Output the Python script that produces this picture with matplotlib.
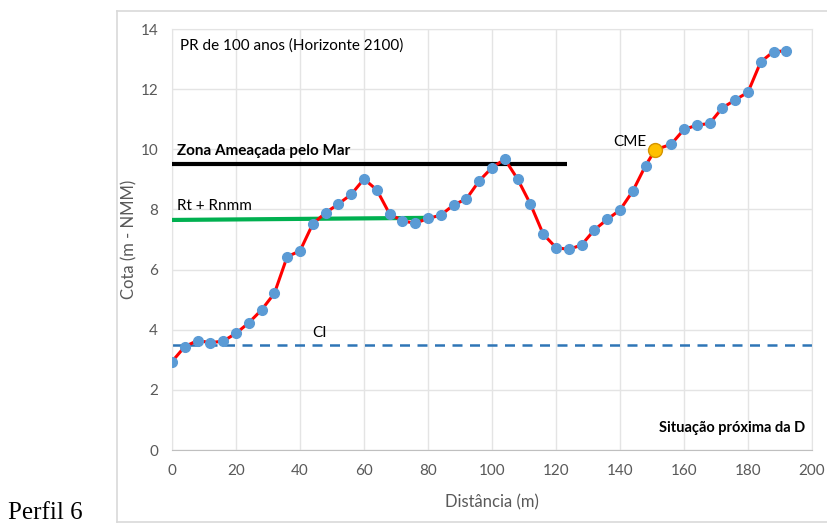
import matplotlib
matplotlib.use("Agg")
import matplotlib.pyplot as plt
from matplotlib.lines import Line2D

# Data
dist = [0, 4, 8, 12, 16, 20, 24, 28, 32, 36, 40, 44, 48, 52, 56, 60, 64, 68, 72, 76,
        80, 84, 88, 92, 96, 100, 104, 108, 112, 116, 120, 124, 128, 132, 136, 140, 144,
        148, 151, 156, 160, 164, 168, 172, 176, 180, 184, 188, 192]
cota = [2.94, 3.44, 3.64, 3.57, 3.62, 3.88, 4.23, 4.66, 5.21, 6.43, 6.62, 7.52, 7.89,
        8.18, 8.50, 9.01, 8.65, 7.85, 7.62, 7.54, 7.70, 7.81, 8.15, 8.35, 8.95, 9.39,
        9.67, 9.01, 8.18, 7.18, 6.73, 6.67, 6.82, 7.32, 7.67, 7.98, 8.61, 9.46, 9.98,
        10.17, 10.66, 10.80, 10.86, 11.38, 11.64, 11.90, 12.91, 13.25, 13.27]
cme_x, cme_y = [151], [9.98]
zona_x, zona_y = [0, 123.5], [9.5, 9.5]
rt_x, rt_y = [0, 80], [7.65, 7.72]
ci_x, ci_y = [0, 200], [3.5, 3.5]
xticks = list(range(0, 201, 20))
yticks = list(range(0, 15, 2))

plt.rcParams['font.family'] = ['Lato', 'DejaVu Sans']

W, H = 828, 523
fig = plt.figure(figsize=(W / 100, H / 100), dpi=100)
ax = fig.add_axes([172 / W, 1 - 450 / H, (812 - 172) / W, (450 - 29) / H])

# outer chart frame
fig.add_artist(Line2D([117 / W, 1.0], [1 - 11 / H, 1 - 11 / H], color='#d9d9d9', lw=1.2, transform=fig.transFigure))
fig.add_artist(Line2D([117 / W, 1.0], [1 - 521.5 / H, 1 - 521.5 / H], color='#d9d9d9', lw=1.2, transform=fig.transFigure))
fig.add_artist(Line2D([117 / W, 117 / W], [1 - 11 / H, 1 - 521.5 / H], color='#d9d9d9', lw=1.2, transform=fig.transFigure))

ax.set_xlim(0, 200)
ax.set_ylim(0, 14)
ax.set_xticks(xticks)
ax.set_yticks(yticks)
ax.grid(True, color='#e4e4e4', lw=1)
ax.set_axisbelow(True)
for s in ['top', 'right', 'left']:
    ax.spines[s].set_color('#e4e4e4')
ax.spines['bottom'].set_color('#bfbfbf')
ax.tick_params(length=0, labelsize=11, labelcolor='#595959', pad=10)

ax.plot(ci_x, ci_y, color='#2e75b6', lw=1.8, ls=(0, (4, 3)), zorder=2)
ax.plot(zona_x, zona_y, color='black', lw=3, zorder=3, solid_capstyle='butt')
ax.plot(rt_x, rt_y, color='#00b050', lw=3, zorder=3, solid_capstyle='butt')
ax.plot(dist, cota, color='#ff0000', lw=2.2, marker='o', ms=7,
        mfc='#5b9bd5', mec='#5b9bd5', zorder=4)
ax.plot(cme_x, cme_y, ls='none', marker='o', ms=10, mfc='#ffc000', mec='#d59400', mew=1, zorder=5)

ax.text(2.5, 13.45, 'PR de 100 anos (Horizonte 2100)', fontsize=11, color='black', va='center')
ax.text(1.5, 9.95, 'Zona Ameaçada pelo Mar', fontsize=11, fontweight='bold', va='center')
ax.text(1.5, 8.1, 'Rt + Rnmm', fontsize=11, va='center')
ax.text(46, 3.88, 'CI', fontsize=11, va='center', ha='center')
ax.text(148.3, 10.25, 'CME', fontsize=11, va='center', ha='right')
ax.text(198, 0.72, 'Situação próxima da D', fontsize=10.5, fontweight='bold', va='center', ha='right')

ax.set_xlabel('Distância (m)', fontsize=12, color='#595959', labelpad=12)
ax.set_ylabel('Cota (m - NMM)', fontsize=12, color='#595959', labelpad=2)

fig.text(8 / W, 1 - 513 / H, 'Perfil 6', fontsize=18, family='Liberation Serif', va='center', ha='left')

fig.savefig('out.png', dpi=100)
